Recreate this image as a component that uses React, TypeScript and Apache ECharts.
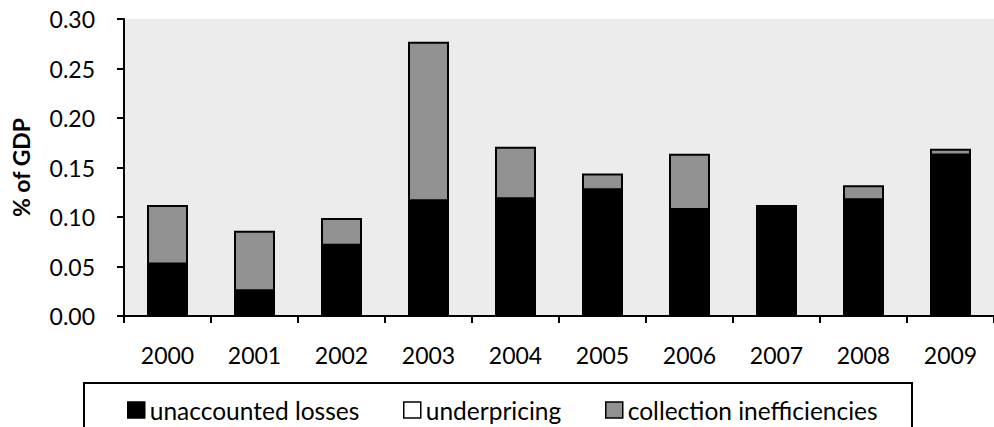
import React, { useEffect, useRef } from "react";
import * as echarts from "echarts";

const years = ["2000", "2001", "2002", "2003", "2004", "2005", "2006", "2007", "2008", "2009"];
const unaccountedLosses = [0.052, 0.025, 0.071, 0.116, 0.118, 0.127, 0.107, 0.111, 0.117, 0.162];
const underpricing = [0, 0, 0, 0, 0, 0, 0, 0, 0, 0];
const collectionInefficiencies = [0.060, 0.061, 0.028, 0.161, 0.053, 0.017, 0.057, 0, 0.015, 0.007];
const seriesNames = ["unaccounted losses", "underpricing", "collection inefficiencies"];
const seriesColors = ["#000000", "#ffffff", "#919191"];

const FONT = "Lato, 'Open Sans', sans-serif";

export default function App() {
  const ref = useRef<HTMLDivElement>(null);
  useEffect(() => {
    if (!ref.current) return;
    const chart = echarts.init(ref.current, undefined, { renderer: "svg" });
    const dataArrays = [unaccountedLosses, underpricing, collectionInefficiencies];
    const legendLefts = [127, 403, 605];
    chart.setOption({
      animation: false,
      backgroundColor: "#ffffff",
      textStyle: { fontFamily: FONT },
      grid: { left: 124, top: 19, width: 880, height: 297, backgroundColor: "#ececec", show: true, borderWidth: 0 },
      xAxis: {
        type: "category",
        data: years,
        axisLine: { lineStyle: { color: "#000", width: 2 } },
        axisTick: { show: true, length: 7, lineStyle: { color: "#000", width: 2 } },
        axisLabel: { color: "#000", fontSize: 23, fontFamily: FONT, margin: 27 },
      },
      yAxis: {
        type: "value",
        min: 0,
        max: 0.3,
        interval: 0.05,
        name: "% of GDP",
        nameLocation: "middle",
        nameGap: 92,
        nameTextStyle: { color: "#000", fontSize: 23, fontWeight: "bold", fontFamily: FONT },
        axisLine: { show: true, lineStyle: { color: "#000", width: 2 } },
        axisTick: { show: true, length: 7, lineStyle: { color: "#000", width: 2 } },
        splitLine: { show: false },
        axisLabel: {
          color: "#000",
          fontSize: 23,
          fontFamily: FONT,
          margin: 29,
          formatter: (v: number) => v.toFixed(2),
        },
      },
      legend: seriesNames.map((n, i) => ({
        data: [n],
        left: legendLefts[i],
        top: 396,
        padding: 0,
        itemWidth: 17,
        itemHeight: 16,
        itemGap: 0,
        icon: "rect",
        selectedMode: false,
        itemStyle: { color: seriesColors[i], borderColor: "#000", borderWidth: 1.5 },
        textStyle: { color: "#000", fontSize: 24.5, fontFamily: FONT, lineHeight: 28, padding: [0, 0, 0, 0] },
      })),
      graphic: [
        {
          type: "rect",
          shape: { x: 84, y: 383, width: 828, height: 70 },
          style: { fill: "none", stroke: "#000", lineWidth: 2 },
          silent: true,
        },
      ],
      series: seriesNames.map((n, i) => ({
        name: n,
        type: "bar",
        stack: "total",
        barWidth: 41,
        data: dataArrays[i],
        itemStyle: { color: seriesColors[i], borderColor: "#000", borderWidth: 2 },
      })),
    });
    return () => chart.dispose();
  }, []);
  return (
    <div
      ref={ref}
      style={{ position: "fixed", left: 0, top: 0, width: 994, height: 427 }}
    />
  );
}
